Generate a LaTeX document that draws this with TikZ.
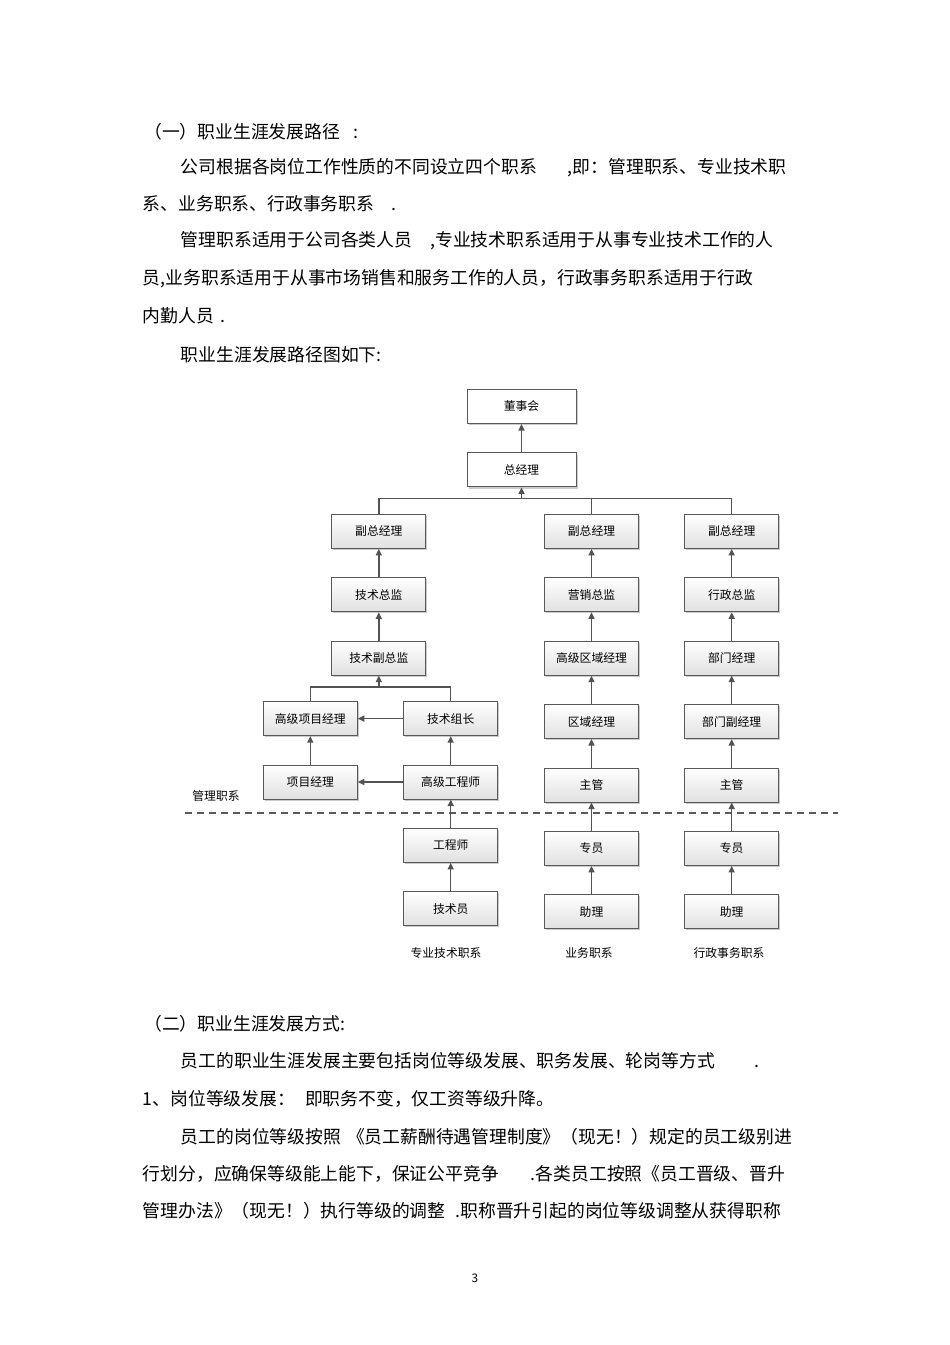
\documentclass[tikz,border=0pt]{standalone}
\usepackage{fontspec}
\newfontfamily\cjk{Noto Sans CJK SC}
\usetikzlibrary{positioning,calc,shadows,arrows.meta}
\tikzset{block/.style={draw=black!65,line width=1pt,minimum width=94pt,minimum height=34pt,inner sep=0pt,
           top color=white,bottom color=black!12,
           drop shadow={shadow xshift=1.6pt,shadow yshift=-1.6pt,fill=black!40,opacity=0.5},
           font=\cjk\fontsize{11.8}{14}\selectfont},
         topblock/.style={block,minimum width=109pt,bottom color=white},
         line/.style={draw=black!68,line width=1.4pt},
         lbl/.style={inner sep=0pt,font=\cjk\fontsize{11.8}{14}\selectfont},
         para/.style={anchor=west,inner sep=0pt,font=\cjk\fontsize{17.8}{20}\selectfont}
}
\tikzstyle{arrow} = [line,-{Triangle[length=6.5pt,width=6pt]}]

\begin{document}
\begin{tikzpicture}[x=1pt,y=-1pt,node distance=28.4pt]
\useasboundingbox[fill=white] (0,0) rectangle (950,1345);

% text above the chart
\node[para] (h1) at (144,132) {（一）职业生涯发展路径\hspace{14pt}:};
\node[para] (p1) at (180.7,167.7) {公司根据各岗位工作性质的不同设立四个职系\hspace{31pt},即：管理职系、专业技术职};
\node[para] (p2) at (142.7,203.3) {系、业务职系、行政事务职系\hspace{17pt}.};
\node[para] (p3) at (180.7,240.5) {管理职系适用于公司各类人员\hspace{18pt},专业技术职系适用于从事专业技术工作的人};
\node[para] (p4) at (142.7,278.5) {员,业务职系适用于从事市场销售和服务工作的人员，行政事务职系适用于行政};
\node[para] (p5) at (142.7,315.5) {内勤人员\hspace{6pt}.};
\node[para] (p6) at (180.7,354.5) {职业生涯发展路径图如下:};

% chart
\node[topblock] (dsh) at (521.5,406.5) {董事会};
\node[topblock,below=of dsh] (zjl) {总经理};

\node[block] (fz1) at (378.8,531.4) {副总经理};
\node[block,below=of fz1] (jszj) {技术总监};
\node[block,below=of jszj] (jsfzj) {技术副总监};
\node[block] (gxm) at (310.3,718.6) {高级项目经理};
\node[block,below=of gxm] (xmjl) {项目经理};
\node[block] (jszz) at (450.7,718.6) {技术组长};
\node[block,below=of jszz] (ggcs) {高级工程师};
\node[block,below=of ggcs] (gcs) {工程师};
\node[block,below=of gcs] (jsy) {技术员};

\node[block] (fz2) at (591.5,531.4) {副总经理};
\node[block,below=of fz2] (yxzj) {营销总监};
\node[block,below=of yxzj] (gqjl) {高级区域经理};
\node[block,below=of gqjl] (qyjl) {区域经理};
\node[block,below=of qyjl] (zg1) {主管};
\node[block,below=of zg1] (zy1) {专员};
\node[block,below=of zy1] (zl1) {助理};

\node[block] (fz3) at (731.7,531.4) {副总经理};
\node[block,below=of fz3] (xzzj) {行政总监};
\node[block,below=of xzzj] (bmjl) {部门经理};
\node[block,below=of bmjl] (bmfjl) {部门副经理};
\node[block,below=of bmfjl] (zg2) {主管};
\node[block,below=of zg2] (zy2) {专员};
\node[block,below=of zy2] (zl2) {助理};

\node[lbl] (glzx) at (216,796) {管理职系};
\node[lbl] (zyzx) at (446,952.7) {专业技术职系};
\node[lbl] (ywzx) at (589,952.7) {业务职系};
\node[lbl] (xzzx) at (729,952.7) {行政事务职系};

\coordinate (tj) at ($(zjl.south)+(0,11.3)$);
\coordinate (lj) at ($(jsfzj.south)+(0,11.3)$);
\coordinate (dl) at (185,813);
\coordinate (dr) at (838,813);

\draw[arrow] (zjl)--(dsh);
\draw[line] (fz1.north) |- (tj) -| (fz3.north);
\draw[line] (fz2.north) -- (fz2.north |- tj);
\draw[arrow] (tj)--(zjl.south);

\draw[arrow] (jszj)--(fz1);
\draw[arrow] (jsfzj)--(jszj);
\draw[line] (gxm.north) |- (lj) -| (jszz.north);
\draw[arrow] (lj)--(jsfzj.south);
\draw[arrow] (xmjl)--(gxm);
\draw[arrow] (ggcs)--(jszz);
\draw[arrow] (gcs)--(ggcs);
\draw[arrow] (jsy)--(gcs);
\draw[arrow] (jszz)--(gxm);
\draw[arrow] (ggcs)--(xmjl);

\draw[arrow] (yxzj)--(fz2);
\draw[arrow] (gqjl)--(yxzj);
\draw[arrow] (qyjl)--(gqjl);
\draw[arrow] (zg1)--(qyjl);
\draw[arrow] (zy1)--(zg1);
\draw[arrow] (zl1)--(zy1);

\draw[arrow] (xzzj)--(fz3);
\draw[arrow] (bmjl)--(xzzj);
\draw[arrow] (bmfjl)--(bmjl);
\draw[arrow] (zg2)--(bmfjl);
\draw[arrow] (zy2)--(zg2);
\draw[arrow] (zl2)--(zy2);

\draw[draw=black!65,line width=1.2pt,dash pattern=on 7pt off 5pt] (dl)--(dr);

% text below the chart
\node[para] (h2) at (144,1024) {（二）职业生涯发展方式:};
\node[para] (q1) at (180.7,1061) {员工的职业生涯发展主要包括岗位等级发展、职务发展、轮岗等方式\hspace{40pt}.};
\node[para] (q2) at (142.7,1099) {1、岗位等级发展：\hspace{10pt}即职务不变，仅工资等级升降。};
\node[para] (q3) at (180.7,1137) {员工的岗位等级按照\hspace{6pt}《员工薪酬待遇管理制度》（现无！）规定的员工级别进};
\node[para] (q4) at (142.7,1174) {行划分，应确保等级能上能下，保证公平竞争\hspace{32pt}.各类员工按照《员工晋级、晋升};
\node[para] (q5) at (142.7,1211) {管理办法》（现无！）执行等级的调整\hspace{10pt}.职称晋升引起的岗位等级调整从获得职称};
\node[lbl] (pg) at (475,1278) {3};

\end{tikzpicture}
\end{document}
